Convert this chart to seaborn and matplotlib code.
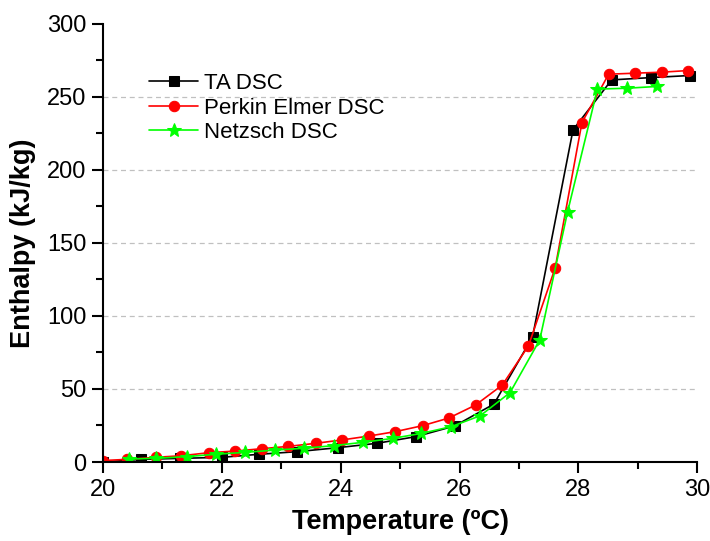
import matplotlib
matplotlib.use("Agg")
import matplotlib.pyplot as plt
import seaborn as sns
import pandas as pd
from matplotlib.ticker import MultipleLocator

# ---- data ----
ta_temp = [20.0, 20.64, 21.30, 22.0, 22.63, 23.27, 23.95, 24.61, 25.27, 25.92,
           26.58, 27.23, 27.91, 28.56, 29.23, 29.88]
ta_enth = [0.0, 1.8, 2.5, 3.2, 5.3, 7.1, 9.8, 12.8, 17.4, 24.7,
           39.7, 85.8, 227.4, 261.6, 263.2, 264.6]

pe_temp = [20.0, 20.40, 20.89, 21.32, 21.79, 22.23, 22.67, 23.12, 23.58, 24.02,
           24.48, 24.92, 25.38, 25.82, 26.27, 26.72, 27.16, 27.61, 28.06, 28.51,
           28.96, 29.41, 29.85]
pe_enth = [1.0, 1.8, 3.2, 4.3, 6.4, 7.5, 9.1, 10.7, 12.8, 15.1,
           17.8, 20.8, 24.9, 30.1, 39.0, 52.7, 79.5, 132.9, 232.4, 265.5,
           266.2, 266.9, 268.0]

nz_temp = [20.43, 20.90, 21.41, 21.90, 22.39, 22.90, 23.38, 23.88, 24.38, 24.88,
           25.36, 25.86, 26.35, 26.85, 27.35, 27.82, 28.32, 28.82, 29.32]
nz_enth = [2.1, 2.5, 3.7, 5.3, 6.6, 8.2, 9.4, 11.2, 13.5, 16.2,
           19.6, 24.2, 31.7, 47.5, 83.6, 171.5, 255.3, 255.9, 257.1]

series_names = ["TA DSC", "Perkin Elmer DSC", "Netzsch DSC"]
x_ticks = [20, 22, 24, 26, 28, 30]
y_ticks = [0, 50, 100, 150, 200, 250, 300]

sns.set_theme(style="white")
plt.rcParams["font.family"] = ["Liberation Sans", "DejaVu Sans"]
plt.rcParams["text.color"] = "black"

fig = plt.figure(figsize=(7.1, 5.41), dpi=100)
ax = fig.add_axes([0.145, 0.146, 0.837, 0.810])

styles = [
    (ta_temp, ta_enth, "black", "s", 6.5),
    (pe_temp, pe_enth, "#ff0000", "o", 7.5),
    (nz_temp, nz_enth, "#00ff00", "*", 10.5),
]
handles = []
for name, (xs, ys, col, mk, ms) in zip(series_names, styles):
    df = pd.DataFrame({"T": xs, "H": ys})
    sns.lineplot(data=df, x="T", y="H", ax=ax, color=col, marker=mk,
                 markersize=ms, markeredgecolor=col, markerfacecolor=col,
                 linewidth=1.2, sort=False, label=name, legend=False)
    handles.append(ax.lines[-1])

ax.set_xlim(20, 30)
ax.set_ylim(0, 300)
ax.set_xticks(x_ticks)
ax.set_yticks(y_ticks)
ax.xaxis.set_minor_locator(MultipleLocator(1))
ax.yaxis.set_minor_locator(MultipleLocator(25))

for g in [50, 100, 150, 200, 250]:
    ax.axhline(g, color="#c0c0c0", linestyle=(0, (4, 3)), linewidth=0.9, zorder=0)

for s in ["top", "right"]:
    ax.spines[s].set_visible(False)
for s in ["left", "bottom"]:
    ax.spines[s].set_color("black")
    ax.spines[s].set_linewidth(1.5)

ax.tick_params(axis="both", which="major", direction="out", length=8, width=1.5,
               color="black", labelsize=17, labelcolor="black", pad=4,
               bottom=True, left=True)
ax.tick_params(axis="both", which="minor", direction="out", length=5, width=1.5,
               color="black", bottom=True, left=True)

label_font = dict(family=["Liberation Sans", "DejaVu Sans"],
                  fontsize=19.5, fontweight="bold", color="black")
ax.set_xlabel("Temperature (ºC)", labelpad=6, **label_font)
ax.set_ylabel("Enthalpy (kJ/kg)", labelpad=8, **label_font)

ax.legend(handles=handles, labels=series_names, loc="upper left",
          bbox_to_anchor=(0.198, 0.881), bbox_transform=fig.transFigure,
          frameon=False, fontsize=16, handlelength=2.2, handletextpad=0.25,
          labelspacing=0.15, borderaxespad=0, labelcolor="black")

fig.savefig("out.png", dpi=100)
